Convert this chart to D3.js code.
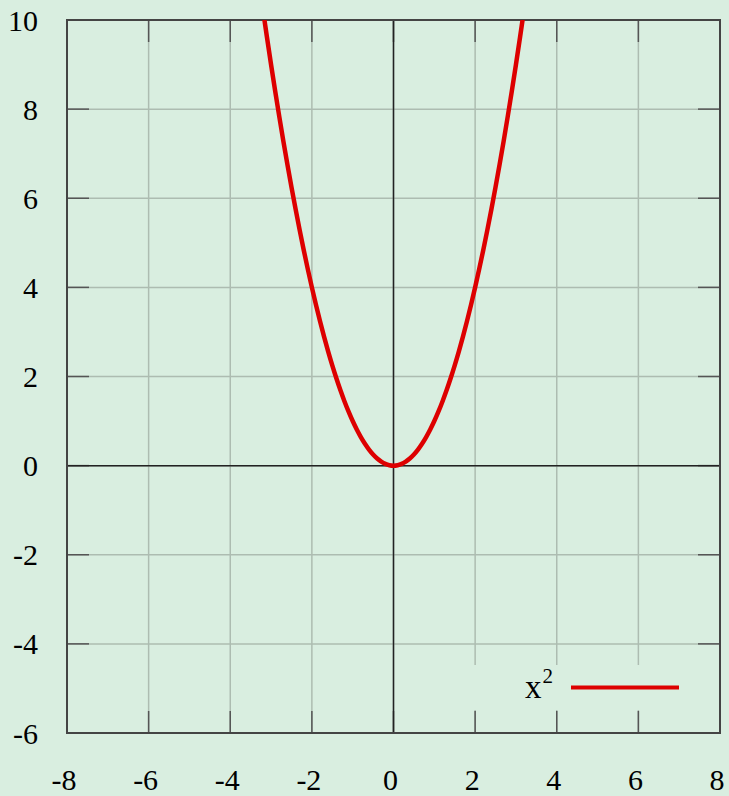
<!DOCTYPE html>
<html>
<head>
<meta charset="utf-8">
<title>x squared</title>
<style>
	html, body { margin: 0; padding: 0; background: #d9eee0; }
	svg { display: block; }
	.lbl { font-family: "Liberation Serif", "DejaVu Serif", serif; font-size: 30px; fill: #000; }
</style>
</head>
<body>
<svg id="chart" width="729" height="796"></svg>
<script src="https://cdnjs.cloudflare.com/ajax/libs/d3/7.8.5/d3.min.js"></script>
<script>
// data
var xTicks = [-8, -6, -4, -2, 0, 2, 4, 6, 8];
var yTicks = [-6, -4, -2, 0, 2, 4, 6, 8, 10];
var xDomain = [-8, 8];
var yDomain = [-6, 10];
var seriesName = 'x';
var seriesExp = '2';
// sample points for x^2 (x from -3.2 to 3.2)
var curveX = [-3.2, -3.1, -3.0, -2.9, -2.8, -2.7, -2.6, -2.5, -2.4, -2.3, -2.2, -2.1, -2.0, -1.9, -1.8, -1.7, -1.6, -1.5, -1.4, -1.3, -1.2, -1.1, -1.0, -0.9, -0.8, -0.7, -0.6, -0.5, -0.4, -0.3, -0.2, -0.1, 0.0, 0.1, 0.2, 0.3, 0.4, 0.5, 0.6, 0.7, 0.8, 0.9, 1.0, 1.1, 1.2, 1.3, 1.4, 1.5, 1.6, 1.7, 1.8, 1.9, 2.0, 2.1, 2.2, 2.3, 2.4, 2.5, 2.6, 2.7, 2.8, 2.9, 3.0, 3.1, 3.2];
var curveY = [10.24, 9.61, 9.0, 8.41, 7.84, 7.29, 6.76, 6.25, 5.76, 5.29, 4.84, 4.41, 4.0, 3.61, 3.24, 2.89, 2.56, 2.25, 1.96, 1.69, 1.44, 1.21, 1.0, 0.81, 0.64, 0.49, 0.36, 0.25, 0.16, 0.09, 0.04, 0.01, 0.0, 0.01, 0.04, 0.09, 0.16, 0.25, 0.36, 0.49, 0.64, 0.81, 1.0, 1.21, 1.44, 1.69, 1.96, 2.25, 2.56, 2.89, 3.24, 3.61, 4.0, 4.41, 4.84, 5.29, 5.76, 6.25, 6.76, 7.29, 7.84, 8.41, 9.0, 9.61, 10.24];

(function () {
	var svg = d3.select('#chart');
	var pLeft = 67, pRight = 720, pTop = 20, pBottom = 733;
	var tickLen = 22;
	var bg = '#d9eee0';

	var x = d3.scaleLinear().domain(xDomain).range([pLeft, pRight]);
	var y = d3.scaleLinear().domain(yDomain).range([pBottom, pTop]);

	svg.append('defs').append('clipPath').attr('id', 'clip')
		.append('rect').attr('x', pLeft).attr('y', pTop).attr('width', pRight - pLeft).attr('height', pBottom - pTop);

	// grid
	var grid = svg.append('g').attr('stroke', '#adbcb1').attr('stroke-width', 1.5);
	xTicks.slice(1, -1).forEach(function (t) {
		grid.append('line').attr('x1', x(t)).attr('x2', x(t)).attr('y1', pTop).attr('y2', pBottom);
	});
	yTicks.slice(1, -1).forEach(function (t) {
		grid.append('line').attr('x1', pLeft).attr('x2', pRight).attr('y1', y(t)).attr('y2', y(t));
	});

	// key box hides the grid behind it
	svg.append('rect').attr('x', 455).attr('y', 665).attr('width', 243).attr('height', 45).attr('fill', bg);

	// ticks
	var ticks = svg.append('g').attr('stroke', '#555').attr('stroke-width', 1.5);
	xTicks.slice(1, -1).forEach(function (t) {
		ticks.append('line').attr('x1', x(t)).attr('x2', x(t)).attr('y1', pTop).attr('y2', pTop + tickLen);
		ticks.append('line').attr('x1', x(t)).attr('x2', x(t)).attr('y1', pBottom).attr('y2', pBottom - tickLen);
	});
	yTicks.slice(1, -1).forEach(function (t) {
		ticks.append('line').attr('x1', pLeft).attr('x2', pLeft + tickLen).attr('y1', y(t)).attr('y2', y(t));
		ticks.append('line').attr('x1', pRight).attr('x2', pRight - tickLen).attr('y1', y(t)).attr('y2', y(t));
	});

	// zero axes
	svg.append('line').attr('x1', x(0)).attr('x2', x(0)).attr('y1', pTop).attr('y2', pBottom)
		.attr('stroke', '#222').attr('stroke-width', 1.5);
	svg.append('line').attr('x1', pLeft).attr('x2', pRight).attr('y1', y(0)).attr('y2', y(0))
		.attr('stroke', '#222').attr('stroke-width', 1.5);

	// frame
	svg.append('rect').attr('x', pLeft).attr('y', pTop).attr('width', pRight - pLeft).attr('height', pBottom - pTop)
		.attr('fill', 'none').attr('stroke', '#444').attr('stroke-width', 2);

	// labels
	svg.append('g').selectAll('text').data(yTicks).join('text')
		.attr('class', 'lbl').attr('text-anchor', 'end')
		.attr('x', 38).attr('y', function (d) { return y(d) + 10.5; })
		.text(function (d) { return d; });
	svg.append('g').selectAll('text').data(xTicks).join('text')
		.attr('class', 'lbl').attr('text-anchor', 'middle')
		.attr('x', function (d) { return x(d) - 3; }).attr('y', 790)
		.text(function (d) { return d; });

	// curve
	var pts = curveX.map(function (v, i) { return [v, curveY[i]]; });
	svg.append('path').datum(pts)
		.attr('clip-path', 'url(#clip)')
		.attr('fill', 'none').attr('stroke', '#dd0000').attr('stroke-width', 4.5)
		.attr('stroke-linejoin', 'round')
		.attr('d', d3.line().x(function (d) { return x(d[0]); }).y(function (d) { return y(d[1]); }).curve(d3.curveCatmullRom));

	// key
	var key = svg.append('text').attr('class', 'lbl').attr('text-anchor', 'end').attr('x', 553).attr('y', 698);
	key.append('tspan').text(seriesName).attr('font-size', 33);
	key.append('tspan').text(seriesExp).attr('font-size', 21).attr('dy', -15).attr('dx', 1);
	svg.append('line').attr('x1', 571).attr('x2', 679).attr('y1', 687.5).attr('y2', 687.5)
		.attr('stroke', '#dd0000').attr('stroke-width', 4);
})();
</script>
</body>
</html>
